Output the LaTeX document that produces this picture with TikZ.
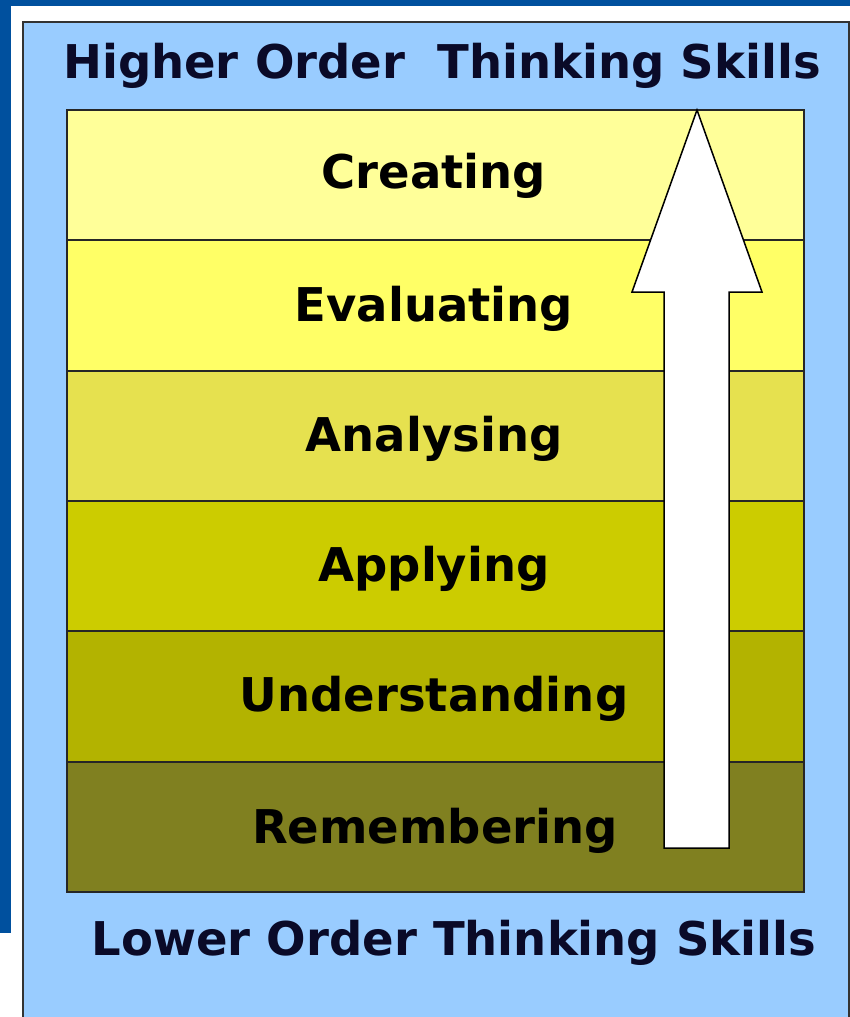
\documentclass[tikz,border=0pt]{standalone}
\usepackage{fontspec}
\setmainfont{DejaVu Sans}
\definecolor{darkblue}{HTML}{00509E}
\definecolor{panelblue}{HTML}{99CCFF}
\definecolor{cA}{HTML}{FFFF99}
\definecolor{cB}{HTML}{FFFF66}
\definecolor{cC}{HTML}{E6E14F}
\definecolor{cD}{HTML}{CCCC00}
\definecolor{cE}{HTML}{B3B300}
\definecolor{cF}{HTML}{808020}
\definecolor{navy}{HTML}{0A0A28}
\begin{document}
\begin{tikzpicture}[x=1pt,y=-1pt,
  band/.style={draw=none,minimum width=737pt,minimum height=130.33pt,inner sep=0pt,outer sep=0pt},
  bandline/.style={draw=black!85,line width=2pt},
  label/.style={inner sep=0pt,anchor=base,font=\bfseries\fontsize{46.5}{50}\selectfont,text=black},
  headtext/.style={inner sep=0pt,anchor=base,font=\bfseries\fontsize{46.5}{50}\selectfont,text=navy}]
\useasboundingbox (0,0) rectangle (850,1017);
% background
\fill[white] (0,0) rectangle (850,1017);
\fill[darkblue] (0,0) rectangle (850,6);
\fill[darkblue] (0,0) rectangle (11,933);
% panel
\draw[fill=panelblue,draw=black!80,line width=1.5pt] (23,22) rectangle (849,1030);
% bands
\node[band,fill=cA] (b1) at (435.5,175.17) {};
\node[band,fill=cB] (b2) at (435.5,305.50) {};
\node[band,fill=cC] (b3) at (435.5,435.83) {};
\node[band,fill=cD] (b4) at (435.5,566.17) {};
\node[band,fill=cE] (b5) at (435.5,696.50) {};
\node[band,fill=cF] (b6) at (435.5,826.83) {};
\draw[bandline] (b1.south west) -- (b1.south east)
                (b2.south west) -- (b2.south east)
                (b3.south west) -- (b3.south east)
                (b4.south west) -- (b4.south east)
                (b5.south west) -- (b5.south east);
\draw[bandline] (b1.north west) rectangle (b6.south east);
% arrow
\draw[fill=white,draw=black,line width=1.5pt,line join=miter]
  (697,110) -- (762,292) -- (729,292) -- (729,848) -- (664,848) -- (664,292) -- (632,292) -- cycle;
% labels
\node[label] (t1) at (434,188) {Creating};
\node[label] (t2) at (434,321) {Evaluating};
\node[label] (t3) at (434,451) {Analysing};
\node[label] (t4) at (434,581) {Applying};
\node[label] (t5) at (434,711) {Understanding};
\node[label] (t6) at (435,843) {Remembering};
% headers
\node[headtext] (hi) at (442,78) {Higher Order\ \ Thinking Skills};
\node[headtext] (lo) at (454,955) {Lower Order Thinking Skills};
\end{tikzpicture}
\end{document}
